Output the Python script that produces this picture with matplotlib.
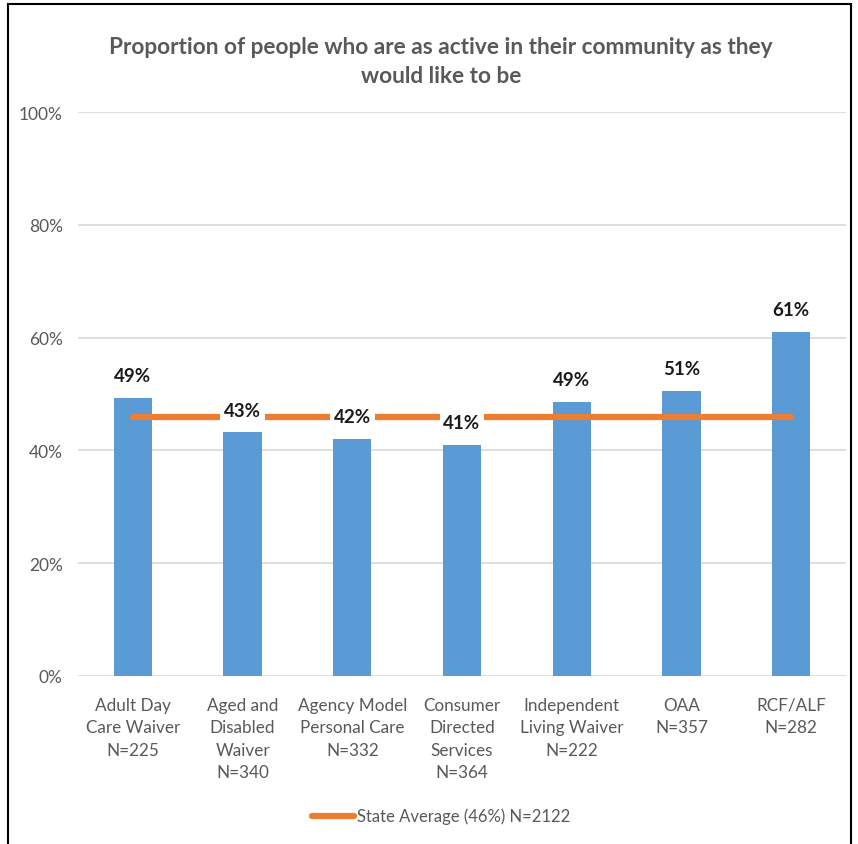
import matplotlib
matplotlib.use("Agg")
import matplotlib.pyplot as plt
from matplotlib.patches import Rectangle
from matplotlib.lines import Line2D

categories = ["Adult Day\nCare Waiver\nN=225", "Aged and\nDisabled\nWaiver\nN=340",
              "Agency Model\nPersonal Care\nN=332", "Consumer\nDirected\nServices\nN=364",
              "Independent\nLiving Waiver\nN=222", "OAA\nN=357", "RCF/ALF\nN=282"]
values = [49.3, 43.2, 42.1, 41.0, 48.6, 50.6, 61.0]
labels = ["49%", "43%", "42%", "41%", "49%", "51%", "61%"]
state_avg = 45.9
legend_label = "State Average (46%) N=2122"
title = "Proportion of people who are as active in their community as they\nwould like to be"
yticks = [0, 20, 40, 60, 80, 100]

plt.rcParams['font.family'] = ['Lato', 'DejaVu Sans']
grey = "#595959"

fig = plt.figure(figsize=(8.58, 8.45), dpi=100)
ax = fig.add_axes([78/858, (845-677)/845, 768/858, 564/845])

x = list(range(len(categories)))
ax.bar(x, values, width=0.35, color="#5B9BD5", zorder=2)
ax.plot([x[0], x[-1]], [state_avg, state_avg], color="#ED7D31", lw=4.5,
        solid_capstyle="round", zorder=3)
for xi, v, lab in zip(x, values, labels):
    ax.annotate(lab, (xi, v), xytext=(0, 16), textcoords="offset points",
                ha="center", va="center", fontsize=13.5, fontweight="bold",
                color="#1a1a1a", zorder=4,
                bbox=dict(boxstyle="square,pad=0.2", fc="white", ec="none"))

ax.set_xlim(-0.5, len(categories) - 0.5)
ax.set_ylim(0, 100)
ax.set_yticks(yticks)
ax.set_yticklabels([f"{t}%" for t in yticks], fontsize=12.5, color=grey)
ax.set_xticks(x)
ax.set_xticklabels(categories, fontsize=12.3, color=grey, linespacing=1.5)
ax.tick_params(axis="both", length=0)
ax.tick_params(axis="y", pad=11)
ax.tick_params(axis="x", pad=15)
ax.yaxis.grid(True, color="#D9D9D9", lw=1.2, zorder=0)
ax.set_axisbelow(True)
for s in ax.spines.values():
    s.set_visible(False)

fig.text(441/858, 1 - 62/845, title, ha="center", va="center", fontsize=16.3,
         fontweight="bold", color=grey, linespacing=1.45)

# legend
fig.add_artist(Line2D([312/858, 354/858], [1 - 817/845, 1 - 817/845],
                      color="#ED7D31", lw=4.5, solid_capstyle="round"))
fig.text(357/858, 1 - 817/845, legend_label, ha="left", va="center",
         fontsize=12, color=grey)

# outer frame
fig.add_artist(Rectangle((8/858, -0.05), (851 - 8)/858, 1.05 - 5/845,
                         transform=fig.transFigure, fill=False, ec="black", lw=1.5))

fig.savefig("out.png", dpi=100)
